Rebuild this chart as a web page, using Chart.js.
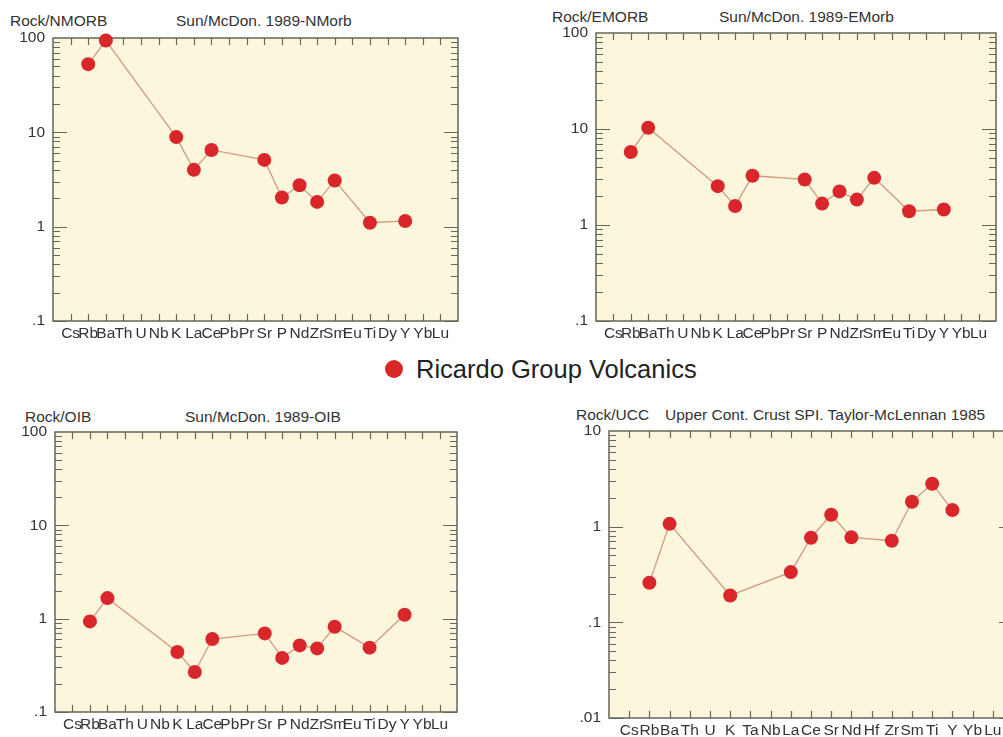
<!DOCTYPE html>
<html>
<head>
<meta charset="utf-8">
<script src="https://cdn.jsdelivr.net/npm/chart.js@4"></script>
<style>
  html, body { margin: 0; padding: 0; background: #fff; width: 1003px; height: 737px; overflow: hidden; position: relative; }
  .box { position: absolute; }
  .txt { position: absolute; font: 15.5px "Liberation Sans", Arial, sans-serif; color: #333; line-height: 18px; white-space: nowrap; }
  .dot { position: absolute; left: 385px; top: 360px; width: 18px; height: 18px; border-radius: 50%; background: #d92626; }
  .legend { position: absolute; left: 416px; top: 354px; font: 25.5px "Liberation Sans", Arial, sans-serif; color: #222; line-height: 30px; white-space: nowrap; }
</style>
</head>
<body>

<div class="txt" style="left:10px; top:12px;">Rock/NMORB</div>
<div class="txt" style="left:176px; top:12px;">Sun/McDon. 1989-NMorb</div>
<div class="txt" style="left:552px; top:8px;">Rock/EMORB</div>
<div class="txt" style="left:719px; top:8px;">Sun/McDon. 1989-EMorb</div>
<div class="txt" style="left:25px; top:408px;">Rock/OIB</div>
<div class="txt" style="left:185px; top:408px;">Sun/McDon. 1989-OIB</div>
<div class="txt" style="left:576px; top:406px;">Rock/UCC</div>
<div class="txt" style="left:665px; top:406px;">Upper Cont. Crust SPI. Taylor-McLennan 1985</div>

<div class="dot"></div>
<div class="legend">Ricardo Group Volcanics</div>

<div class="box" id="b1"><canvas id="c1"></canvas></div>
<div class="box" id="b2"><canvas id="c2"></canvas></div>
<div class="box" id="b3"><canvas id="c3"></canvas></div>
<div class="box" id="b4"><canvas id="c4"></canvas></div>

<script>
// Element order on the spider diagrams
const elementsMorb = ['Cs','Rb','Ba','Th','U','Nb','K','La','Ce','Pb','Pr','Sr','P','Nd','Zr','Sm','Eu','Ti','Dy','Y','Yb','Lu'];
const elementsUcc = ['Cs','Rb','Ba','Th','U','K','Ta','Nb','La','Ce','Sr','Nd','Hf','Zr','Sm','Ti','Y','Yb','Lu'];

// Normalised values (null = not analysed)
const nmorbValues = [null, 52.8, 94, null, null, null, 8.9, 4.0, 6.5, null, null, 5.1, 2.04, 2.75, 1.83, 3.09, null, 1.1, null, 1.15, null, null];
const emorbValues = [null, 5.75, 10.3, null, null, null, 2.54, 1.58, 3.26, null, null, 2.98, 1.67, 2.24, 1.84, 3.1, null, 1.39, null, 1.45, null, null];
const oibValues = [null, 0.935, 1.66, null, null, null, 0.44, 0.268, 0.605, null, null, 0.695, 0.38, 0.517, 0.48, 0.82, null, 0.489, null, 1.1, null, null];
const uccValues = [null, 0.259, 1.07, null, null, 0.191, null, null, 0.335, 0.766, 1.33, 0.773, null, 0.713, 1.82, 2.81, 1.49, null, null];

// Y axis decades
const decadesMorb = [0.1, 1, 10, 100];
const decadesUcc = [0.01, 0.1, 1, 10];

const seriesName = 'Ricardo Group Volcanics';
const chartFont = '"Liberation Sans", Arial, sans-serif';
const plotBg = '#fcf7dc';
const frameColor = '#66665a';
const pointColor = '#d8262a';
const lineColor = '#d09a85';

// Frame, background and inward ticks
const framePlugin = {
    id: 'frame',
    beforeDraw(chart) {
        const a = chart.chartArea;
        const ctx = chart.ctx;
        ctx.save();
        ctx.fillStyle = plotBg;
        ctx.fillRect(a.left, a.top, a.right - a.left, a.bottom - a.top);
        ctx.restore();
    },
    beforeDatasetsDraw(chart) {
        const a = chart.chartArea;
        const ctx = chart.ctx;
        const xs = chart.scales.x;
        const ys = chart.scales.y;
        ctx.save();
        ctx.strokeStyle = frameColor;
        ctx.lineWidth = 1.2;
        ctx.beginPath();
        // category ticks top and bottom
        xs.ticks.forEach(t => {
            const px = Math.round(xs.getPixelForValue(t.value)) + 0.5;
            ctx.moveTo(px, a.bottom); ctx.lineTo(px, a.bottom - 7);
            ctx.moveTo(px, a.top); ctx.lineTo(px, a.top + 7);
        });
        // log ticks left and right
        const lo = Math.log10(ys.min), hi = Math.log10(ys.max);
        for (let d = Math.floor(lo); d < hi; d++) {
            for (let k = 1; k <= 9; k++) {
                const v = k * Math.pow(10, d);
                if (v < ys.min * 0.999 || v > ys.max * 1.001) continue;
                const py = Math.round(ys.getPixelForValue(v)) + 0.5;
                const len = k === 1 ? 14 : 7;
                ctx.moveTo(a.left, py); ctx.lineTo(a.left + len, py);
                ctx.moveTo(a.right, py); ctx.lineTo(a.right - len, py);
            }
        }
        ctx.stroke();
        ctx.lineWidth = 1.5;
        ctx.strokeRect(a.left, a.top, a.right - a.left, a.bottom - a.top);
        ctx.restore();
    }
};

function makeChart(id, box, plot, labels, values, decades) {
    const wrap = document.getElementById('b' + id);
    wrap.style.left = box.left + 'px';
    wrap.style.top = box.top + 'px';
    wrap.style.width = box.width + 'px';
    wrap.style.height = box.height + 'px';

    const points = [];
    values.forEach((v, i) => {
        if (v !== null) points.push({ x: i, y: v });
    });

    new Chart(document.getElementById('c' + id), {
        type: 'scatter',
        data: {
            datasets: [{
                label: seriesName,
                data: points,
                showLine: true,
                borderColor: lineColor,
                borderWidth: 1.3,
                pointRadius: 7,
                pointHoverRadius: 7,
                pointBackgroundColor: pointColor,
                pointBorderWidth: 0,
                clip: false
            }]
        },
        options: {
            responsive: true,
            maintainAspectRatio: false,
            animation: false,
            layout: {
                padding: {
                    left: 0,
                    top: plot.top - box.top,
                    right: box.left + box.width - plot.right,
                    bottom: 0
                }
            },
            plugins: {
                legend: { display: false },
                tooltip: { enabled: false }
            },
            scales: {
                x: {
                    type: 'linear',
                    min: -1,
                    max: labels.length,
                    grid: { display: false, drawTicks: false },
                    border: { display: false },
                    afterBuildTicks: scale => {
                        scale.ticks = labels.map((_, i) => ({ value: i }));
                    },
                    afterFit: scale => {
                        scale.height = box.top + box.height - plot.bottom;
                    },
                    ticks: {
                        autoSkip: false,
                        maxRotation: 0,
                        minRotation: 0,
                        padding: 3,
                        color: '#333',
                        font: { family: chartFont, size: 15.5 },
                        callback: v => labels[v]
                    }
                },
                y: {
                    type: 'logarithmic',
                    min: decades[0],
                    max: decades[decades.length - 1],
                    grid: { display: false, drawTicks: false },
                    border: { display: false },
                    afterBuildTicks: scale => {
                        scale.ticks = decades.map(v => ({ value: v }));
                    },
                    afterFit: scale => {
                        scale.width = plot.left - box.left;
                    },
                    ticks: {
                        padding: 8,
                        color: '#333',
                        font: { family: chartFont, size: 15.5 },
                        callback: v => (v >= 1 ? String(v) : String(v).replace(/^0/, ''))
                    }
                }
            }
        },
        plugins: [framePlugin]
    });
}

makeChart(1, { left: 0, top: 16, width: 470, height: 332 }, { left: 53, top: 38, right: 458, bottom: 321 }, elementsMorb, nmorbValues, decadesMorb);
makeChart(2, { left: 540, top: 11, width: 463, height: 335 }, { left: 596, top: 33, right: 1002, bottom: 321 }, elementsMorb, emorbValues, decadesMorb);
makeChart(3, { left: 0, top: 410, width: 470, height: 327 }, { left: 55, top: 432, right: 457, bottom: 712 }, elementsMorb, oibValues, decadesMorb);
makeChart(4, { left: 560, top: 409, width: 470, height: 328 }, { left: 609, top: 431, right: 1013, bottom: 718 }, elementsUcc, uccValues, decadesUcc);
</script>
</body>
</html>
